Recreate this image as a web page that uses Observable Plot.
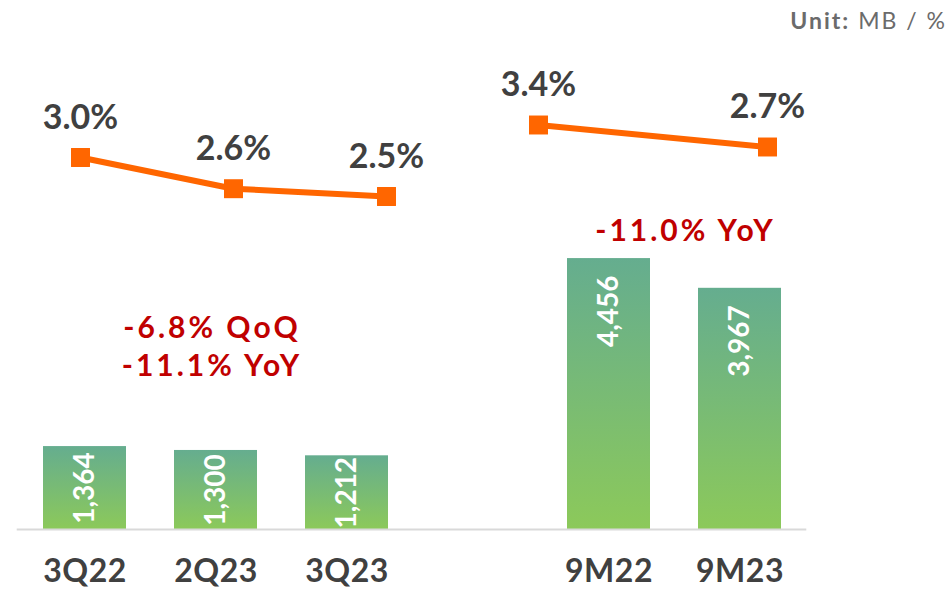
<!DOCTYPE html>
<html><head><meta charset="utf-8">
<script src="https://cdn.jsdelivr.net/npm/d3@7"></script>
<script src="https://cdn.jsdelivr.net/npm/@observablehq/plot@0.6"></script>
<style>
body{margin:0;background:#fff;font-family:Lato, "Open Sans", sans-serif;}
#wrap{position:relative;width:952px;height:589px;overflow:hidden;}
#wrap svg{position:absolute;left:0;top:0;background:transparent;}
#unit{position:absolute;right:5px;top:9px;font-size:23px;line-height:1;color:#6b6b6b;letter-spacing:2px;white-space:nowrap;}
#unit b{font-weight:700;}
</style></head><body>
<div id="wrap"><div id="unit"><b>Unit:</b> MB / %</div></div>
<script>
// ---- data ----
const categories = ["3Q22", "2Q23", "3Q23", " ", "9M22", "9M23"];
const barCategories = ["3Q22", "2Q23", "3Q23", "9M22", "9M23"];
const volumes = [1364, 1300, 1212, 4456, 3967];
const quarterLabels = ["3Q22", "2Q23", "3Q23"];
const quarterRates = [3.0, 2.6, 2.5];
const ytdLabels = ["9M22", "9M23"];
const ytdRates = [3.4, 2.7];
const quarterNote = "-6.8% QoQ\n-11.1% YoY";
const ytdNote = "-11.0% YoY";

const bars = barCategories.map((c, i) => ({cat: c, value: volumes[i]}));
const fmt = d3.format(",");
const wrap = document.getElementById("wrap");

const gradient = () => {
  const defs = d3.create("svg:defs");
  const g = defs.append("linearGradient").attr("id", "barGrad")
    .attr("x1", 0).attr("y1", 0).attr("x2", 0).attr("y2", 1);
  g.append("stop").attr("offset", "0%").attr("stop-color", "#65ad8f");
  g.append("stop").attr("offset", "100%").attr("stop-color", "#8cc95a");
  return defs.node();
};

const main = Plot.plot({
  width: 952, height: 589,
  marginLeft: 16.7, marginRight: 145.7, marginTop: 0, marginBottom: 60,
  style: {color: "#404040", background: "transparent", fontFamily: "Lato, sans-serif"},
  x: {type: "band", domain: categories, paddingInner: 0.37, paddingOuter: 0.185},
  y: {domain: [0, 5000], range: [529, 225], axis: null},
  marks: [
    gradient,
    Plot.barY(bars, {x: "cat", y: "value", fill: "url(#barGrad)"}),
    Plot.ruleY([0], {stroke: "#d9d9d9", strokeWidth: 2}),
    Plot.text(bars.filter(d => d.value > 3000), {
      x: "cat", y: "value", text: d => fmt(d.value), rotate: -90,
      textAnchor: "end", dy: 17, fill: "white", fontWeight: "bold", fontSize: 28
    }),
    Plot.text(bars.filter(d => d.value <= 3000), {
      x: "cat", y: d => d.value / 2, text: d => fmt(d.value), rotate: -90,
      textAnchor: "middle", fill: "white", fontWeight: "bold", fontSize: 28
    }),
    Plot.text([quarterNote], {
      x: () => "2Q23", y: () => 2532, text: d => d, dx: -4,
      lineAnchor: "bottom", lineHeight: 1.267, fontSize: 30, fontWeight: "bold", fill: "#c00000"
    }),
    Plot.text([ytdNote], {
      x: () => "9M22", y: () => 4752, text: d => d, dx: 76.5,
      lineAnchor: "bottom", fontSize: 30, fontWeight: "bold", fill: "#c00000"
    }),
    Plot.axisX({tickSize: 0, tickPadding: 30, fontSize: 32, fontWeight: "bold", fill: "#404040", label: null})
  ]
});
d3.select(main).selectAll('g[fill="#c00000"] text').style("letter-spacing", "3px");
d3.select(main).selectAll('g[aria-label="x-axis tick label"] text').style("letter-spacing", "0.5px");
wrap.appendChild(main);

function ratePlot(labels, rates, xRange, yRange) {
  const data = labels.map((l, i) => ({label: l, rate: rates[i]}));
  return Plot.plot({
    width: 952, height: 589, margin: 0,
    style: {background: "transparent", fontFamily: "Lato, sans-serif"},
    x: {type: "point", domain: labels, range: xRange, padding: 0, axis: null},
    y: {domain: d3.extent(rates), range: yRange, axis: null},
    marks: [
      Plot.line(data, {x: "label", y: "rate", stroke: "#ff6600", strokeWidth: 6}),
      Plot.dot(data, {x: "label", y: "rate", symbol: "square", r: 10.7, fill: "#ff6600", stroke: "none"}),
      Plot.text(data, {
        x: "label", y: "rate", text: d => d3.format(".1f")(d.rate) + "%",
        dy: -29, lineAnchor: "bottom", fontSize: 34, fontWeight: "bold", fill: "#404040"
      })
    ]
  });
}
wrap.appendChild(ratePlot(quarterLabels, quarterRates, [79.5, 385.5], [196, 157]));
wrap.appendChild(ratePlot(ytdLabels, ytdRates, [537.5, 766.5], [146.5, 124.5]));
</script>
</body></html>
